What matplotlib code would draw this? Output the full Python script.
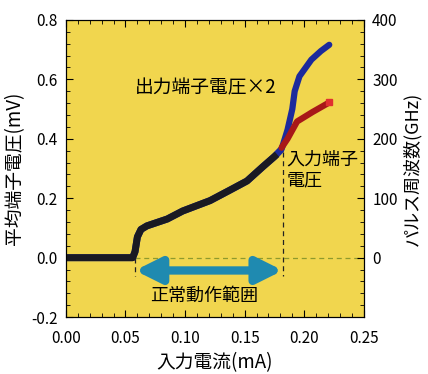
import matplotlib
matplotlib.use("Agg")
import matplotlib.pyplot as plt
from matplotlib.ticker import MultipleLocator

plt.rcParams['font.family'] = ['Noto Sans CJK JP', 'DejaVu Sans']

# input current (mA) vs average terminal voltage (mV)
common_i = [0.0, 0.02, 0.04, 0.056, 0.058, 0.060, 0.063, 0.068, 0.085, 0.098,
            0.121, 0.138, 0.152, 0.165, 0.175, 0.181]
common_v = [0.0, 0.0, 0.0, 0.0, 0.02, 0.07, 0.095, 0.107, 0.130, 0.157,
            0.192, 0.228, 0.258, 0.305, 0.340, 0.365]

# output terminal voltage x2, upper branch
out_i = [0.181, 0.186, 0.190, 0.192, 0.196, 0.206, 0.214, 0.221]
out_v = [0.365, 0.430, 0.500, 0.560, 0.610, 0.666, 0.695, 0.716]

# input terminal voltage, upper branch
in_i = [0.181, 0.186, 0.194, 0.207, 0.221]
in_v = [0.370, 0.400, 0.458, 0.490, 0.522]

range_lo, range_hi = 0.058, 0.182

yellow = '#F1D64E'

fig = plt.figure(figsize=(4.28, 3.74), dpi=100)
ax = fig.add_axes([0.154, 0.152, 0.696, 0.795])
ax.set_facecolor(yellow)

ax.plot(common_i, common_v, color='#1c2a9c', lw=5, solid_capstyle='butt', zorder=3)
ax.plot(out_i, out_v, color='#1c2a9c', lw=4.5, solid_capstyle='round', zorder=3)
ax.plot(in_i, in_v, color='#a81818', lw=4.5, solid_capstyle='round', zorder=3)
ax.plot(in_i[-1], in_v[-1], 's', color='#e03030', ms=4, zorder=4)
ax.plot(common_i[:-1], common_v[:-1], color='#1a1a22', lw=5, zorder=4)

# zero line and operating range markers
ax.plot([range_lo, 0.25], [0, 0], ls=(0, (4, 3)), color='#8f9a2c', lw=0.9, zorder=2)
ax.plot([range_lo, range_lo], [0, -0.06], ls=(0, (4, 3)), color='#222222', lw=0.9)
ax.plot([range_hi, range_hi], [0.355, -0.06], ls=(0, (4, 3)), color='#222222', lw=0.9)
ax.annotate('', xy=(range_lo, -0.043), xytext=(range_hi, -0.043),
            arrowprops=dict(arrowstyle='<|-|>,head_length=1.5,head_width=0.75',
                            color='#1f8ab0', lw=6, shrinkA=0, shrinkB=0))

ax.text(0.116, -0.13, '正常動作範囲', fontsize=13, ha='center', va='center')
ax.text(0.058, 0.572, '出力端子電圧×2', fontsize=13.5, ha='left', va='center')
ax.text(0.185, 0.295, '入力端子\n電圧', fontsize=13, ha='left', va='center',
        linespacing=1.2)

ax.set_xlim(0, 0.25)
ax.set_ylim(-0.2, 0.8)
ax.xaxis.set_major_locator(MultipleLocator(0.05))
ax.xaxis.set_minor_locator(MultipleLocator(0.01))
ax.yaxis.set_major_locator(MultipleLocator(0.2))
ax.yaxis.set_minor_locator(MultipleLocator(0.04))
ax.xaxis.set_major_formatter(lambda v, p: f'{v:.2f}')
ax.yaxis.set_major_formatter(lambda v, p: f'{v:.1f}')
ax.tick_params(which='both', direction='in', top=True, labelsize=11)
ax.tick_params(which='major', length=5)
ax.tick_params(which='minor', length=3)
ax.tick_params(axis='x', which='major', pad=9)
ax.tick_params(axis='y', which='major', pad=6)
ax.set_xlabel('入力電流(mA)', fontsize=13.5, labelpad=4)
ax.set_ylabel('平均端子電圧(mV)', fontsize=13.5, labelpad=4)

ax2 = ax.twinx()
ax2.set_ylim(-100, 400)
ax2.yaxis.set_major_locator(MultipleLocator(100))
ax2.yaxis.set_minor_locator(MultipleLocator(20))
ax2.tick_params(which='both', direction='in', labelsize=11)
ax2.tick_params(which='major', length=5, pad=6)
ax2.tick_params(which='minor', length=3)
ax2.set_yticks([0, 100, 200, 300, 400])
ax2.set_ylabel('パルス周波数(GHz)', fontsize=13, labelpad=4)

fig.savefig('out.png', dpi=100)
